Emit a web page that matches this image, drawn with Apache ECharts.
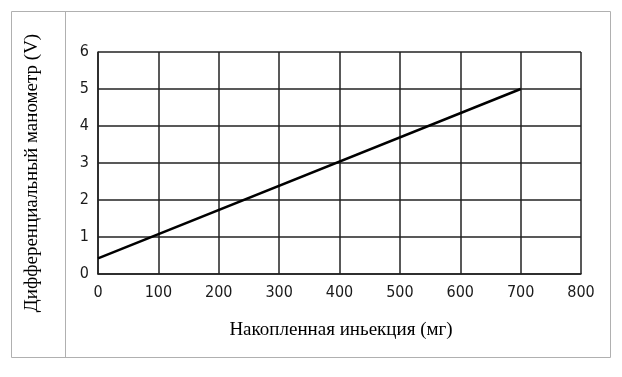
<!DOCTYPE html>
<html><head><meta charset="utf-8">
<script src="https://cdn.jsdelivr.net/npm/echarts@6/dist/echarts.min.js"></script>
<style>html,body{margin:0;padding:0;background:#fff}#c{width:622px;height:377px}</style>
</head><body><div id="c"></div>
<script>
const xTicks = [0,100,200,300,400,500,600,700,800];
const yTicks = [0,1,2,3,4,5,6];
const lineX = [0, 700];
const lineY = [0.42, 5];
const xTitle = 'Накопленная иньекция (мг)';
const yTitle = 'Дифференциальный манометр (V)';

const chart = echarts.init(document.getElementById('c'), null, {renderer:'canvas'});
const axisFont = {fontFamily:'"Liberation Sans Narrow", "DejaVu Sans Condensed", sans-serif', fontSize:16, color:'#1a1a1a'};
chart.setOption({
  animation:false,
  backgroundColor:'#fff',
  grid:{left:98, right:41, top:52, bottom:103, show:false},
  graphic:[
    {type:'rect', shape:{x:11.5,y:11.5,width:599,height:346}, style:{fill:'none', stroke:'#b0b0b0', lineWidth:1}, silent:true},
    {type:'line', shape:{x1:65.5,y1:11.5,x2:65.5,y2:357.5}, style:{stroke:'#b0b0b0', lineWidth:1}, silent:true},
    {type:'text', x:32, y:173, rotation:Math.PI/2, style:{text:yTitle, font:'19px "Liberation Serif", serif', fill:'#000', textAlign:'center', textVerticalAlign:'middle'}, silent:true},
    {type:'text', x:341, y:330, style:{text:xTitle, font:'19px "Liberation Serif", serif', fill:'#000', textAlign:'center', textVerticalAlign:'middle'}, silent:true}
  ],
  xAxis:{type:'value', min:0, max:800, interval:100,
    axisLine:{show:true, lineStyle:{color:'#222', width:1.5}},
    axisTick:{show:false},
    axisLabel:{...axisFont, margin:11, formatter:v=>xTicks.includes(v)?String(v):''},
    splitLine:{show:true, lineStyle:{color:'#222', width:1.5}}},
  yAxis:{type:'value', min:0, max:6, interval:1,
    axisLine:{show:true, lineStyle:{color:'#222', width:1.5}},
    axisTick:{show:false},
    axisLabel:{...axisFont, margin:9, padding:[0,0,8,0], formatter:v=>yTicks.includes(v)?String(v):''},
    splitLine:{show:true, lineStyle:{color:'#222', width:1.5}}},
  series:[{type:'line', data:lineX.map((x,i)=>[x,lineY[i]]), symbol:'none',
    lineStyle:{color:'#000', width:2.5}}]
});
</script></body></html>
